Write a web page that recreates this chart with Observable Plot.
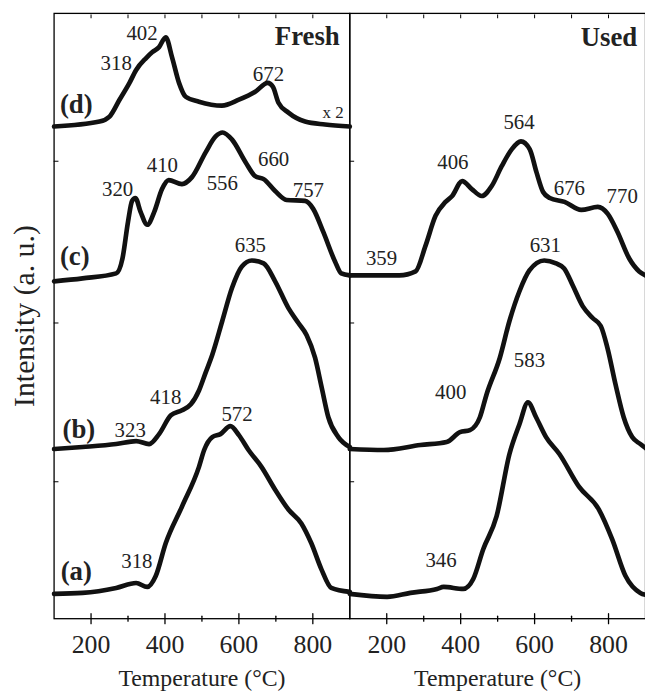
<!DOCTYPE html>
<html><head><meta charset="utf-8">
<script src="https://cdn.jsdelivr.net/npm/d3@7"></script>
<script src="https://cdn.jsdelivr.net/npm/@observablehq/plot@0.6"></script>
<style>html,body{margin:0;padding:0;background:#fff;overflow:hidden} svg text{font-family:"Liberation Serif","Times New Roman",serif;}</style>
</head><body><div id="chart"></div>
<script>
// Panels and samples
const panels = ["Fresh", "Used"];
const sampleNames = ["(a)", "(b)", "(c)", "(d)"];

// Curves: [temperature (°C), intensity (a. u., offset-stacked)]
const freshA = [[100,25],[177,26],[268,31],[322,36],[352,32],[375,43],[402,76],[446,113],[492,153],[506,170],[528,183],[550,186],[577,194],[600,185],[626,170],[661,153],[698,130],[734,110],[769,96],[796,76],[823,50],[850,31],[900,27]];
const freshB = [[100,171],[177,173],[268,176],[322,179],[357,176],[384,186],[416,205],[446,210],[470,216],[492,230],[510,248],[528,266],[555,300],[581,333],[608,355],[635,361],[667,358],[698,340],[734,313],[761,298],[783,286],[806,263],[824,233],[842,203],[869,183],[900,173]];
const freshC = [[100,340],[177,343],[268,348],[285,363],[300,400],[311,421],[320,424],[334,410],[352,397],[371,410],[392,433],[410,442],[446,438],[473,445],[510,470],[537,486],[556,490],[581,483],[618,460],[644,446],[667,443],[698,431],[729,422],[779,421],[801,413],[828,390],[860,360],[877,348],[900,346]];
const freshD = [[100,496],[223,501],[250,506],[277,523],[304,540],[322,553],[349,565],[366,571],[384,576],[402,586],[419,566],[438,540],[456,526],[492,521],[554,517],[600,523],[644,531],[678,540],[692,536],[707,520],[734,510],[779,501],[833,498],[900,496]];
const usedA = [[100,25],[201,22],[264,26],[336,30],[354,32],[407,30],[434,40],[461,70],[497,103],[532,166],[559,196],[582,218],[604,203],[631,183],[667,166],[720,133],[774,110],[810,80],[846,43],[886,26],[900,24]];
const usedB = [[100,171],[192,170],[291,175],[362,178],[398,188],[425,190],[452,203],[470,226],[506,263],[532,300],[559,330],[586,351],[626,361],[658,358],[680,353],[703,336],[730,315],[757,303],[779,295],[797,273],[819,236],[841,203],[864,183],[886,176],[900,172]];
const usedC = [[100,346],[156,346],[234,346],[278,350],[305,376],[332,406],[359,420],[377,426],[404,441],[430,433],[457,426],[484,436],[511,456],[538,473],[563,481],[587,473],[605,450],[623,430],[641,424],[681,420],[726,412],[771,415],[798,408],[824,390],[856,363],[883,350],[900,346]];

// Peak labels: [text, temperature, intensity]
const freshPeaks = [["402",338,590],["318",268,560],["672",680,549],["320",272,433],["410",393,457],["556",555,439],["660",694,463],["757",788,432],["635",631,376],["418",402,223],["323",306,190],["572",595,206],["318",324,58]];
const usedPeaks = [["406",379,460],["564",558,500],["676",694,434],["770",837,426],["359",186,363],["631",629,376],["583",586,260],["400",373,228],["346",347,59]];
const sampleLabelPos = [["(a)",160,48],["(b)",167,191],["(c)",156,365],["(d)",160,518]];
const scaleNote = ["x 2", 855, 510];
const panelTitlePos = [["Fresh",785,587],["Used",801,586]];

// Axis ticks
const majorTicks = [200, 400, 600, 800];
const minorTicks = [300, 500, 700];
const topTicks = [200, 300, 400, 500, 600, 700, 800];
const yTicks = [140, 300, 463];

// Build tables
const rows = [];
const addCurve = (panel, sample, pts) => pts.forEach(([t, v]) => rows.push({panel, sample, t, v}));
addCurve("Fresh", "a", freshA); addCurve("Fresh", "b", freshB); addCurve("Fresh", "c", freshC); addCurve("Fresh", "d", freshD);
addCurve("Used", "a", usedA); addCurve("Used", "b", usedB); addCurve("Used", "c", usedC);

const peaks = [
  ...freshPeaks.map(([label, t, v]) => ({panel: "Fresh", label, t, v})),
  ...usedPeaks.map(([label, t, v]) => ({panel: "Used", label, t, v}))
];
const sampleLabels = sampleLabelPos.map(([label, t, v]) => ({panel: "Fresh", label, t, v}));
const titles = panelTitlePos.map(([label, t, v]) => ({panel: label, label, t, v}));
const note = [{panel: "Fresh", label: scaleNote[0], t: scaleNote[1], v: scaleNote[2]}];

const serif = "'Liberation Serif', 'Times New Roman', serif";

const tickShape = (dir) => ({
  draw(ctx, l) {
    ctx.moveTo(0, 0);
    if (dir === "up") ctx.lineTo(0, -l);
    else if (dir === "down") ctx.lineTo(0, l);
    else ctx.lineTo(l, 0);
  }
});

const chart = Plot.plot({
  width: 650,
  height: 697,
  marginLeft: 54,
  marginRight: 0,
  marginTop: 13,
  marginBottom: 74,
  style: {fontFamily: serif, background: "white", color: "black", overflow: "visible"},
  fx: {domain: panels, padding: 0, axis: null},
  x: {domain: [100, 900], axis: null},
  y: {domain: [0, 610], axis: null},
  marks: [
    Plot.frame({stroke: "black", strokeWidth: 1.3}),
    Plot.vector(majorTicks, {x: d => d, frameAnchor: "bottom", length: 10, shape: tickShape("up"), stroke: "black", strokeWidth: 1.3}),
    Plot.vector(minorTicks, {x: d => d, frameAnchor: "bottom", length: 5, shape: tickShape("up"), stroke: "black", strokeWidth: 1.3}),
    Plot.vector(topTicks, {x: d => d, frameAnchor: "top", length: 3, shape: tickShape("down"), stroke: "black", strokeWidth: 1}),
    Plot.vector(yTicks, {y: d => d, frameAnchor: "left", length: 4, shape: tickShape("right"), stroke: "black", strokeWidth: 1}),
    Plot.text(majorTicks, {x: d => d, text: d => String(d), frameAnchor: "bottom", lineAnchor: "middle", dy: 26, fontSize: 26, fontFamily: serif, fill: "#222"}),
    Plot.text(["Temperature (°C)"], {text: d => d, frameAnchor: "bottom", lineAnchor: "middle", textAnchor: "middle", dy: 60, fontSize: 24, fontFamily: serif, fill: "#222"}),
    Plot.text(["Intensity (a. u.)"], {text: d => d, fx: () => "Fresh", frameAnchor: "left", textAnchor: "middle", lineAnchor: "middle", dx: -30, rotate: -90, fontSize: 30, fontFamily: serif, fill: "#222"}),
    Plot.line(rows, {x: "t", y: "v", z: "sample", fx: "panel", curve: "monotone-x", stroke: "#111", strokeWidth: 4.7, strokeLinejoin: "round", strokeLinecap: "round"}),
    Plot.text(peaks, {x: "t", y: "v", text: "label", fx: "panel", fontSize: 21, fontFamily: serif, fill: "#222"}),
    Plot.text(sampleLabels, {x: "t", y: "v", text: "label", fx: "panel", fontSize: 27, fontWeight: "bold", fontFamily: serif, fill: "#222"}),
    Plot.text(note, {x: "t", y: "v", text: "label", fx: "panel", fontSize: 17, fontFamily: serif, fill: "#222"}),
    Plot.text(titles, {x: "t", y: "v", text: "label", fx: "panel", fontSize: 27, fontWeight: "bold", fontFamily: serif, fill: "#222"})
  ]
});
document.getElementById("chart").append(chart);
</script>
</body></html>
